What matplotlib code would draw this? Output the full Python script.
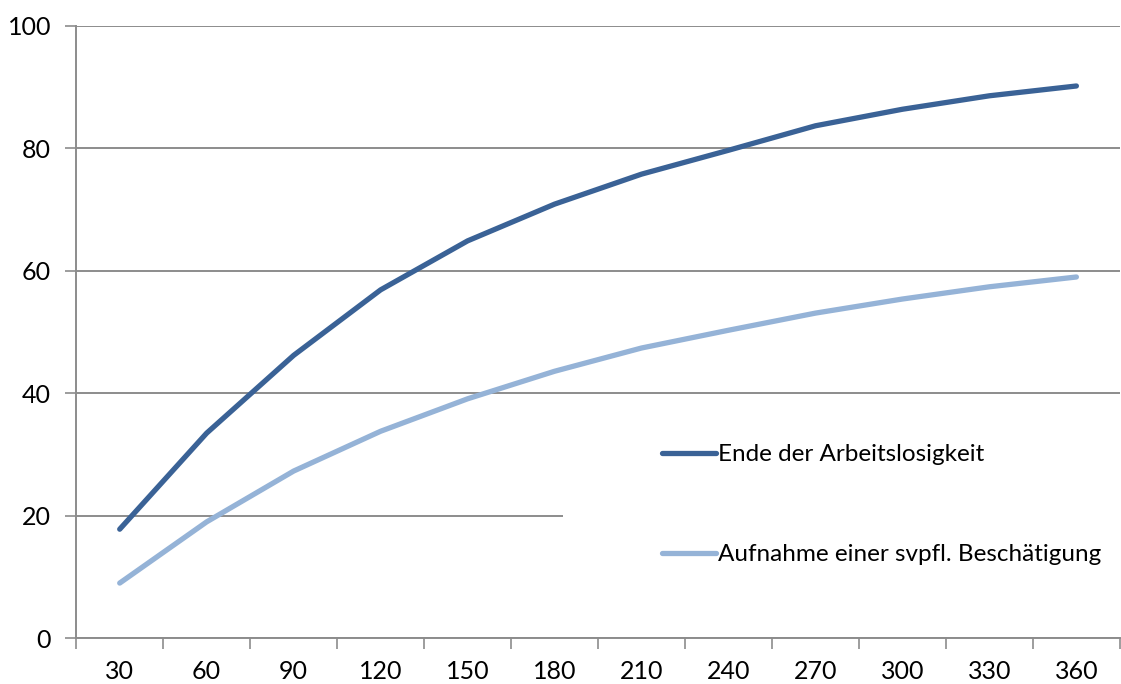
import matplotlib.pyplot as plt
from matplotlib.patches import Rectangle

days = ["30", "60", "90", "120", "150", "180", "210", "240", "270", "300", "330", "360"]
ende = [17.8, 33.5, 46.2, 56.9, 64.9, 70.9, 75.8, 79.7, 83.7, 86.4, 88.6, 90.2]
aufnahme = [9.0, 19.0, 27.3, 33.8, 39.1, 43.6, 47.4, 50.3, 53.1, 55.4, 57.4, 59.0]
labels = ["Ende der Arbeitslosigkeit", "Aufnahme einer svpfl. Beschätigung"]

plt.rcParams['font.family'] = ['Lato', 'DejaVu Sans']

fig = plt.figure(figsize=(11.21, 6.84), dpi=100)
ax = fig.add_axes([0.068, 0.067, 0.931, 0.895])

x = list(range(len(days)))
grid_c = "#8c8c8c"
ax.plot(x, ende, color="#3a6296", lw=3.8, solid_capstyle="round", label=labels[0], zorder=4)
ax.plot(x, aufnahme, color="#95b3d7", lw=3.8, solid_capstyle="round", label=labels[1], zorder=4)

ax.set_xlim(-0.5, len(days) - 0.5)
ax.set_ylim(0, 100)
ax.set_yticks(range(0, 101, 20))
ax.yaxis.grid(True, color=grid_c, lw=1.4, zorder=1)
ax.set_axisbelow(True)

# x ticks between categories, labels at centres
ax.set_xticks([i - 0.5 for i in range(len(days) + 1)])
ax.set_xticklabels([])
ax.set_xticks(x, minor=True)
ax.set_xticklabels(days, minor=True)
ax.tick_params(axis="x", which="major", length=8, width=1.2, color=grid_c, direction="out")
ax.tick_params(axis="x", which="minor", length=0, pad=16, labelsize=18)
ax.tick_params(axis="y", length=8, width=1.2, color=grid_c, labelsize=18, pad=10)

for s in ["top", "right"]:
    ax.spines[s].set_visible(False)
for s in ["left", "bottom"]:
    ax.spines[s].set_color(grid_c)
    ax.spines[s].set_linewidth(1.4)

# white legend area hiding the gridline
ax.add_patch(Rectangle((0.466, 0.06), 0.54, 0.30, transform=ax.transAxes,
                       facecolor="white", edgecolor="none", zorder=2))
ax.legend(loc="upper left", bbox_to_anchor=(0.552, 0.333), frameon=False,
          fontsize=17.5, handlelength=2.2, handletextpad=0.12, labelspacing=3.25,
          borderaxespad=0)

fig.savefig("out.png", dpi=100)
